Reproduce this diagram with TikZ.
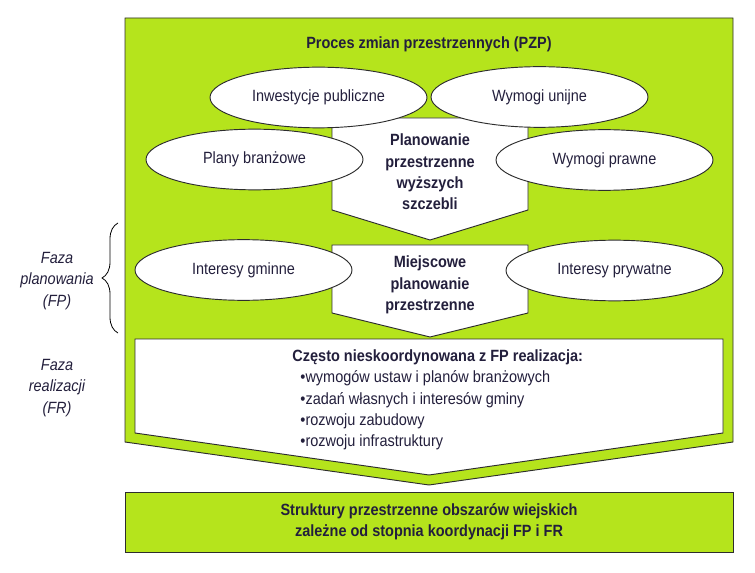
\documentclass[tikz,border=0pt]{standalone}
\usepackage{fontspec}
\setmainfont{Liberation Sans}[FakeStretch=0.89]
\usetikzlibrary{shapes.geometric,decorations.pathreplacing}
\definecolor{limegreen}{RGB}{181,228,28}
\definecolor{inkblue}{RGB}{35,31,60}
\definecolor{edgegray}{RGB}{45,45,45}

\begin{document}
\begin{tikzpicture}[x=0.75pt,y=-0.75pt,line width=0.7pt,text=inkblue,font=\fontsize{12.2}{16}\selectfont,
  bubble/.style={ellipse,draw=edgegray,fill=white,minimum width=162.75pt,minimum height=45.5pt,inner sep=0pt},
  plate/.style={draw=edgegray,fill=white},
  green plate/.style={draw=edgegray,fill=limegreen},
  heading/.style={font=\fontsize{12.2}{16}\selectfont\bfseries,align=center},
  side label/.style={font=\fontsize{12.2}{16}\selectfont\itshape,align=center},
  bullet line/.style={anchor=base west,inner sep=0pt}]

\useasboundingbox (0,0) rectangle (755,573);

\draw[green plate] (125,18) -- (733,18) -- (733,442) -- (429,485) -- (125,442) -- cycle;
\draw[plate] (135,339) -- (723,339) -- (723,433) -- (429,475) -- (135,433) -- cycle;
\draw[green plate] (125,492) rectangle (733,552);
\draw[plate] (332,118) -- (528,118) -- (528,210) -- (430,240) -- (332,210) -- cycle;
\draw[plate] (332,245) -- (528,245) -- (528,313) -- (430,337) -- (332,313) -- cycle;

\node[heading] (pzp) at (429,44) {Proces zmian przestrzennych (PZP)};

\node[bubble] (inw) at (318.5,97.5) {Inwestycje publiczne};
\node[bubble] (unia) at (539.5,97) {Wymogi unijne};
\node[bubble] (bran) at (254.5,159.5) {Plany branżowe};
\node[bubble] (praw) at (604.5,160) {Wymogi prawne};
\node[heading] (wyzsze) at (430,172) {Planowanie\\przestrzenne\\wyższych\\szczebli};

\node[bubble] (gmin) at (243.5,270) {Interesy gminne};
\node[bubble] (pryw) at (614.5,270.5) {Interesy prywatne};
\node[heading] (miejsc) at (430,285) {Miejscowe\\planowanie\\przestrzenne};

\node[bullet line,font=\fontsize{12.2}{16}\selectfont\bfseries] (real) at (292,361) {Często nieskoordynowana z FP realizacja:};
\node[bullet line] (r1) at (300,382.5) {•wymogów ustaw i planów branżowych};
\node[bullet line] (r2) at (300,404) {•zadań własnych i interesów gminy};
\node[bullet line] (r3) at (300,425) {•rozwoju zabudowy};
\node[bullet line] (r4) at (300,446) {•rozwoju infrastruktury};

\node[heading] (struk) at (429,522) {Struktury przestrzenne obszarów wiejskich\\zależne od stopnia koordynacji FP i FR};

\node[side label] (fp) at (57,281) {Faza\\planowania\\(FP)};
\node[side label] (fr) at (57,388) {Faza\\realizacji\\(FR)};
\draw[line width=0.6pt,decorate,decoration={brace,amplitude=12pt}] (118,333) -- (118,223);

\end{tikzpicture}
\end{document}
